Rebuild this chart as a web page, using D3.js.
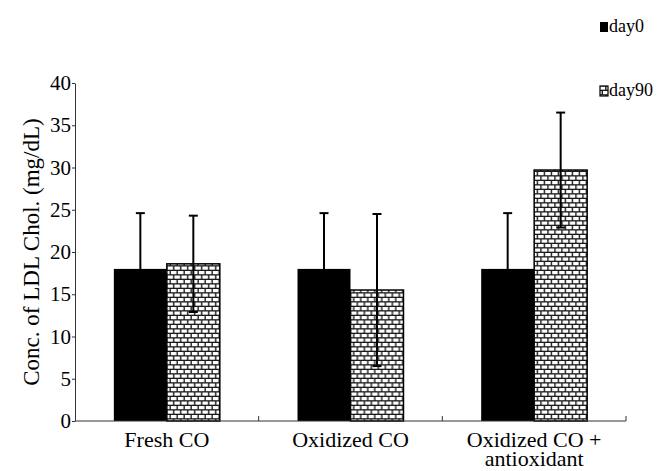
<!DOCTYPE html>
<html><head><meta charset="utf-8">
<script src="https://cdn.jsdelivr.net/npm/d3@7"></script>
<style>body{margin:0;background:#fff}svg{display:block}svg text{font-family:'Liberation Serif','Times New Roman',serif}</style>
</head><body>
<svg id="c" width="657" height="471"></svg>
<script>
const categories = [["Fresh CO"], ["Oxidized CO"], ["Oxidized CO +", "antioxidant"]];
const seriesNames = ["day0", "day90"];
const day0 = [18, 18, 18];
const day0Err = [6.6, 6.6, 6.6];
const day90 = [18.6, 15.5, 29.7];
const day90Err = [5.7, 9.0, 6.8];
const yTicks = [0, 5, 10, 15, 20, 25, 30, 35, 40];

(function () {
const svg = d3.select("#c");
const font = "'Liberation Serif','Times New Roman',serif";
const mLeft = 75, mRight = 626, mTop = 83, mBottom = 421;

const defs = svg.append("defs");
const pat = defs.append("pattern").attr("id", "brick").attr("patternUnits", "userSpaceOnUse")
  .attr("width", 7).attr("height", 9);
pat.append("rect").attr("width", 7).attr("height", 9).attr("fill", "#1a1a1a");
pat.append("rect").attr("x", 1).attr("y", 1).attr("width", 5.6).attr("height", 3.2).attr("fill", "#fff");
pat.append("rect").attr("x", -2.5).attr("y", 5.5).attr("width", 5.6).attr("height", 3.2).attr("fill", "#fff");
pat.append("rect").attr("x", 4.5).attr("y", 5.5).attr("width", 5.6).attr("height", 3.2).attr("fill", "#fff");

const keys = categories.map((c, i) => i);
const x0 = d3.scaleBand().domain(keys).range([mLeft, mRight]).paddingInner(0.423).paddingOuter(0.2115);
const x1 = d3.scaleBand().domain(seriesNames).range([0, x0.bandwidth()]);
const y = d3.scaleLinear().domain([0, 40]).range([mBottom, mTop]);

const data = keys.map(i => [
  {s: "day0", v: day0[i], e: day0Err[i]},
  {s: "day90", v: day90[i], e: day90Err[i]}
]);

const g = svg.append("g");
const grp = g.selectAll("g.grp").data(data).join("g").attr("class", "grp")
  .attr("transform", (d, i) => `translate(${x0(i)},0)`);
grp.selectAll("rect").data(d => d).join("rect")
  .attr("x", d => x1(d.s)).attr("y", d => y(d.v))
  .attr("width", x1.bandwidth()).attr("height", d => y(0) - y(d.v))
  .attr("fill", d => d.s === "day0" ? "#000" : "url(#brick)")
  .attr("stroke", "#000").attr("stroke-width", d => d.s === "day0" ? 0 : 1.5);

grp.selectAll("g.err").data(d => d).join("g").attr("class", "err").each(function (d) {
  const cx = x1(d.s) + x1.bandwidth() / 2;
  const el = d3.select(this);
  const lo = d.v - d.e, hi = d.v + d.e;
  el.append("line").attr("x1", cx).attr("x2", cx).attr("y1", y(lo)).attr("y2", y(hi))
    .attr("stroke", "#000").attr("stroke-width", 2);
  [hi, lo].forEach(v => el.append("line").attr("x1", cx - 4.5).attr("x2", cx + 4.5)
    .attr("y1", y(v)).attr("y2", y(v)).attr("stroke", "#000").attr("stroke-width", 2));
});

const ya = svg.append("g").attr("transform", `translate(${mLeft},0)`)
  .call(d3.axisLeft(y).tickValues(yTicks).tickSize(3).tickPadding(1).tickSizeOuter(0));
ya.attr("font-family", font).attr("font-size", 21);
ya.select(".domain").attr("stroke", "#333");
ya.selectAll(".tick line").attr("stroke", "#333");
ya.selectAll("text").style("font-family", font).style("font-size", "21px").attr("fill", "#000");

const xa = svg.append("g");
xa.append("line").attr("x1", mLeft).attr("x2", mRight).attr("y1", mBottom).attr("y2", mBottom)
  .attr("stroke", "#333").attr("stroke-width", 1);
keys.forEach(i => {
  const xr = x0(i) + x0.bandwidth() + x0.step() * x0.paddingInner() / 2;
  xa.append("line").attr("x1", xr).attr("x2", xr).attr("y1", mBottom).attr("y2", mBottom - 5)
    .attr("stroke", "#333");
});
keys.forEach(i => {
  const cx = x0(i) + x0.bandwidth() / 2;
  categories[i].forEach((ln, j) => xa.append("text").attr("text-anchor", "middle")
    .style("font-family", font).style("font-size", "22px").attr("fill", "#000")
    .attr("x", cx).attr("y", 447 + j * 19).text(ln));
});

svg.append("text").attr("transform", `translate(39,${(mTop + mBottom) / 2}) rotate(-90)`)
  .attr("text-anchor", "middle").style("font-family", font).style("font-size", "23px")
  .attr("fill", "#000").text("Conc. of LDL Chol. (mg/dL)");

const legY = [22, 86];
seriesNames.forEach((s, i) => {
  svg.append("rect").attr("x", 600).attr("y", legY[i]).attr("width", 8).attr("height", 10)
    .attr("fill", s === "day0" ? "#000" : "url(#brick)").attr("stroke", "#000").attr("stroke-width", s === "day0" ? 0 : 1.2);
  svg.append("text").attr("x", 609).attr("y", legY[i] + 10).style("font-family", font)
    .style("font-size", "18px").attr("fill", "#000").text(s);
});
})();
</script>
</body></html>
